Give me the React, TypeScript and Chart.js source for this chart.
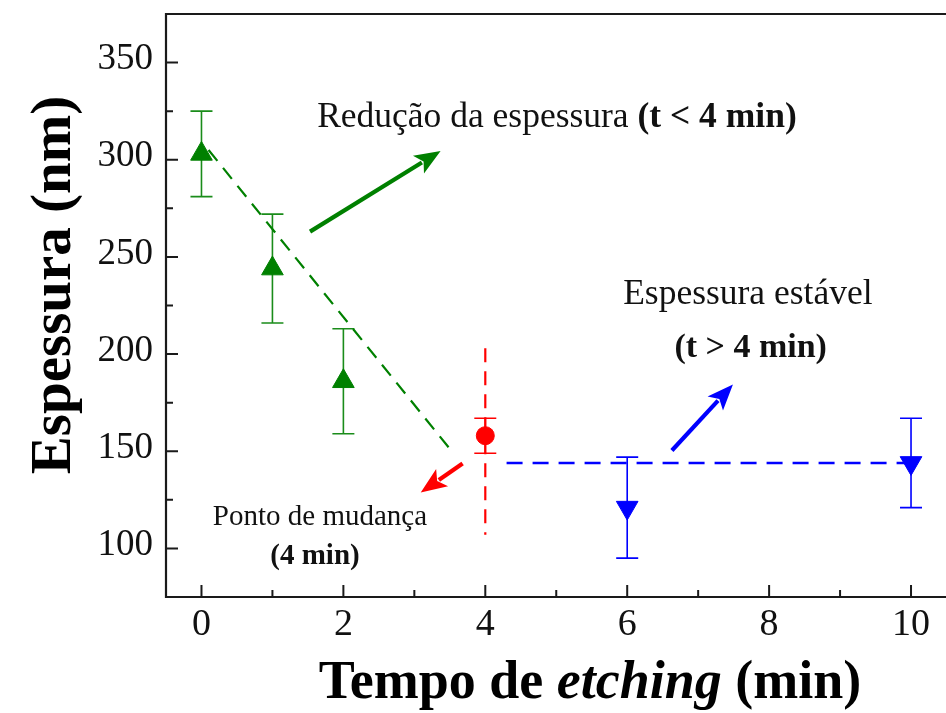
import React, { useEffect, useRef } from 'react';
import { Chart, registerables } from 'chart.js';

Chart.register(...registerables);

// ---- data ----
const greenX = [0, 1, 2];
const greenY = [303, 244, 186];
const greenErr = [22, 28, 27];

const redX = [4];
const redY = [158];
const redErr = [9];

const blueX = [6, 10];
const blueY = [121, 144];
const blueErr = [26, 23];

const greenFitX = [0.1, 3.55];
const greenFitY = [305, 149];
const blueFitX = [4.3, 10];
const blueFitY = [144, 144];
const redLineX = [4, 4];
const redLineY = [203, 107];

const xTicks = [0, 2, 4, 6, 8, 10];
const xTickLabels = ['0', '2', '4', '6', '8', '10'];
const xMinorTicks = [1, 3, 5, 7, 9];
const yTicks = [100, 150, 200, 250, 300, 350];
const yTickLabels = ['100', '150', '200', '250', '300', '350'];
const yMinorTicks = [125, 175, 225, 275, 325];

// arrows: [x0, y0, x1, y1] in data units
const greenArrow = [1.53, 263, 3.37, 304.5];
const redArrow = [3.68, 143.7, 3.09, 128.8];
const blueArrow = [6.63, 150.4, 7.49, 184.4];

// annotation anchors (data units)
const noteReducao = { x: 1.63, y: 321.7 };
const noteEstavel = { x: 7.7, y: 230.7 };
const noteEstavel2 = { x: 7.74, y: 202.9 };
const noteMudanca = { x: 1.67, y: 115.9 };
const noteMudanca2 = { x: 1.6, y: 95.9 };

const FONT = '"Liberation Serif", "DejaVu Serif", serif';
const GREEN = '#008000';
const RED = '#ff0000';
const BLUE = '#0000ff';

const pts = (xs: number[], ys: number[]) => xs.map((x, i) => ({ x, y: ys[i] }));

const customPlugin = {
  id: 'custom',
  beforeDatasetsDraw(chart: any) {
    const ctx = chart.ctx;
    const xs = chart.scales.x;
    const ys = chart.scales.y;
    const drawErr = (xv: number[], yv: number[], ev: number[], color: string) => {
      ctx.save();
      ctx.strokeStyle = color;
      ctx.lineWidth = 1.6;
      xv.forEach((x, i) => {
        const px = xs.getPixelForValue(x);
        const top = ys.getPixelForValue(yv[i] + ev[i]);
        const bot = ys.getPixelForValue(yv[i] - ev[i]);
        ctx.beginPath();
        ctx.moveTo(px, top);
        ctx.lineTo(px, bot);
        ctx.moveTo(px - 11, top);
        ctx.lineTo(px + 11, top);
        ctx.moveTo(px - 11, bot);
        ctx.lineTo(px + 11, bot);
        ctx.stroke();
      });
      ctx.restore();
    };
    drawErr(greenX, greenY, greenErr, '#1a8c1a');
    drawErr(redX, redY, redErr, RED);
    drawErr(blueX, blueY, blueErr, BLUE);
  },
  afterDraw(chart: any) {
    const ctx = chart.ctx;
    const xs = chart.scales.x;
    const ys = chart.scales.y;
    const a = chart.chartArea;
    ctx.save();
    // frame
    ctx.strokeStyle = '#1a1a1a';
    ctx.lineWidth = 2.2;
    ctx.beginPath();
    ctx.moveTo(a.right + 10, a.top);
    ctx.lineTo(a.left, a.top);
    ctx.lineTo(a.left, a.bottom);
    ctx.lineTo(a.right + 10, a.bottom);
    ctx.stroke();
    // ticks
    ctx.lineWidth = 2;
    ctx.beginPath();
    xTicks.forEach((v) => {
      const p = xs.getPixelForValue(v);
      ctx.moveTo(p, a.bottom);
      ctx.lineTo(p, a.bottom - 12);
    });
    xMinorTicks.forEach((v) => {
      const p = xs.getPixelForValue(v);
      ctx.moveTo(p, a.bottom);
      ctx.lineTo(p, a.bottom - 7);
    });
    yTicks.forEach((v) => {
      const p = ys.getPixelForValue(v);
      ctx.moveTo(a.left, p);
      ctx.lineTo(a.left + 12, p);
    });
    yMinorTicks.forEach((v) => {
      const p = ys.getPixelForValue(v);
      ctx.moveTo(a.left, p);
      ctx.lineTo(a.left + 7, p);
    });
    ctx.stroke();

    // tick labels
    ctx.fillStyle = '#111';
    ctx.textBaseline = 'middle';
    ctx.textAlign = 'center';
    ctx.font = `38px ${FONT}`;
    xTicks.forEach((v, i) => {
      ctx.fillText(xTickLabels[i], xs.getPixelForValue(v), a.bottom + 28);
    });
    ctx.textAlign = 'right';
    ctx.font = `37px ${FONT}`;
    yTicks.forEach((v, i) => {
      ctx.fillText(yTickLabels[i], a.left - 13, ys.getPixelForValue(v) - 3);
    });

    // arrows
    const arrow = (ar: number[], color: string) => {
      const x0 = xs.getPixelForValue(ar[0]);
      const y0 = ys.getPixelForValue(ar[1]);
      const x1 = xs.getPixelForValue(ar[2]);
      const y1 = ys.getPixelForValue(ar[3]);
      const ang = Math.atan2(y1 - y0, x1 - x0);
      const hl = 26;
      const hw = 10.5;
      const bx = x1 - hl * Math.cos(ang);
      const by = y1 - hl * Math.sin(ang);
      ctx.strokeStyle = color;
      ctx.fillStyle = color;
      ctx.lineWidth = 4.2;
      ctx.lineCap = 'butt';
      ctx.beginPath();
      ctx.moveTo(x0, y0);
      ctx.lineTo(bx + 4 * Math.cos(ang), by + 4 * Math.sin(ang));
      ctx.stroke();
      ctx.beginPath();
      ctx.moveTo(x1, y1);
      ctx.lineTo(bx + hw * Math.sin(ang), by - hw * Math.cos(ang));
      ctx.lineTo(bx + 6 * Math.cos(ang), by + 6 * Math.sin(ang));
      ctx.lineTo(bx - hw * Math.sin(ang), by + hw * Math.cos(ang));
      ctx.closePath();
      ctx.fill();
    };
    arrow(greenArrow, GREEN);
    arrow(redArrow, RED);
    arrow(blueArrow, BLUE);

    // annotations
    ctx.fillStyle = '#111';
    ctx.textBaseline = 'middle';
    const mixed = (parts: [string, boolean][], size: number, px: number, py: number, align: 'left' | 'center') => {
      let total = 0;
      const widths = parts.map(([t, b]) => {
        ctx.font = `${b ? 'bold ' : ''}${size}px ${FONT}`;
        const w = ctx.measureText(t).width;
        total += w;
        return w;
      });
      let cx = align === 'left' ? px : px - total / 2;
      ctx.textAlign = 'left';
      parts.forEach(([t, b], i) => {
        ctx.font = `${b ? 'bold ' : ''}${size}px ${FONT}`;
        ctx.fillText(t, cx, py);
        cx += widths[i];
      });
    };
    const P = (n: { x: number; y: number }) => [xs.getPixelForValue(n.x), ys.getPixelForValue(n.y)];
    let [px, py] = P(noteReducao);
    mixed([['Redução da espessura ', false], ['(t < 4 min)', true]], 35.5, px, py, 'left');
    [px, py] = P(noteEstavel);
    mixed([['Espessura estável', false]], 35.5, px, py, 'center');
    [px, py] = P(noteEstavel2);
    mixed([['(t > 4 min)', true]], 34, px, py, 'center');
    [px, py] = P(noteMudanca);
    mixed([['Ponto de mudança', false]], 29, px, py, 'center');
    [px, py] = P(noteMudanca2);
    mixed([['(4 min)', true]], 29, px, py, 'center');

    // axis titles
    ctx.fillStyle = '#000';
    const xt = 590;
    ctx.textBaseline = 'alphabetic';
    const xParts: [string, string][] = [
      ['Tempo de ', 'bold'],
      ['etching', 'italic bold'],
      [' (min)', 'bold'],
    ];
    const tsize = 54;
    let tw = 0;
    const xw = xParts.map(([t, s]) => {
      ctx.font = `${s} ${tsize}px ${FONT}`;
      const w = ctx.measureText(t).width;
      tw += w;
      return w;
    });
    let cx = xt - tw / 2;
    xParts.forEach(([t, s], i) => {
      ctx.font = `${s} ${tsize}px ${FONT}`;
      ctx.fillText(t, cx, 698);
      cx += xw[i];
    });

    ctx.save();
    ctx.translate(70, 285);
    ctx.rotate(-Math.PI / 2);
    ctx.textAlign = 'center';
    ctx.font = `bold 57px ${FONT}`;
    ctx.fillText('Espessura (nm)', 0, 0);
    ctx.restore();
    ctx.restore();
  },
};

export default function App() {
  const ref = useRef<HTMLCanvasElement | null>(null);
  useEffect(() => {
    document.body.style.margin = '0';
    const canvas = ref.current!;
    const chart = new Chart(canvas, {
      type: 'scatter',
      data: {
        datasets: [
          {
            label: 'fit1',
            data: pts(greenFitX, greenFitY),
            showLine: true,
            borderColor: GREEN,
            borderWidth: 2.2,
            borderDash: [14, 9],
            pointRadius: 0,
          },
          {
            label: 'fit2',
            data: pts(blueFitX, blueFitY),
            showLine: true,
            borderColor: BLUE,
            borderWidth: 2.5,
            borderDash: [16, 10],
            pointRadius: 0,
          },
          {
            label: 'vline',
            data: pts(redLineX, redLineY),
            showLine: true,
            borderColor: RED,
            borderWidth: 2.2,
            borderDash: [14, 9],
            pointRadius: 0,
          },
          {
            label: 'green',
            data: pts(greenX, greenY),
            pointStyle: 'triangle',
            pointRadius: 12.5,
            backgroundColor: GREEN,
            borderColor: GREEN,
            borderWidth: 1,
          },
          {
            label: 'red',
            data: pts(redX, redY),
            pointStyle: 'circle',
            pointRadius: 9,
            backgroundColor: RED,
            borderColor: RED,
            borderWidth: 1,
          },
          {
            label: 'blue',
            data: pts(blueX, blueY),
            pointStyle: 'triangle',
            rotation: 180,
            pointRadius: 12.5,
            backgroundColor: BLUE,
            borderColor: BLUE,
            borderWidth: 1,
          },
        ],
      },
      options: {
        animation: false,
        responsive: false,
        maintainAspectRatio: false,
        layout: { padding: { top: 14, right: 4, left: 0, bottom: 0 } },
        plugins: { legend: { display: false }, tooltip: { enabled: false } },
        scales: {
          x: {
            type: 'linear',
            min: -0.5,
            max: 10.5,
            grid: { display: false },
            border: { display: false },
            ticks: { display: false },
            afterFit: (s: any) => {
              s.height = 116;
            },
          },
          y: {
            type: 'linear',
            min: 75,
            max: 375,
            grid: { display: false },
            border: { display: false },
            ticks: { display: false },
            afterFit: (s: any) => {
              s.width = 166;
            },
          },
        },
      },
      plugins: [customPlugin],
    });
    return () => chart.destroy();
  }, []);
  return (
    <div style={{ width: 946, height: 713, overflow: 'hidden', position: 'relative', background: '#fff' }}>
      <div style={{ width: 960, height: 713, position: 'absolute', left: 0, top: 0 }}>
        <canvas ref={ref} width={960} height={713} style={{ width: 960, height: 713, display: 'block' }} />
      </div>
    </div>
  );
}
